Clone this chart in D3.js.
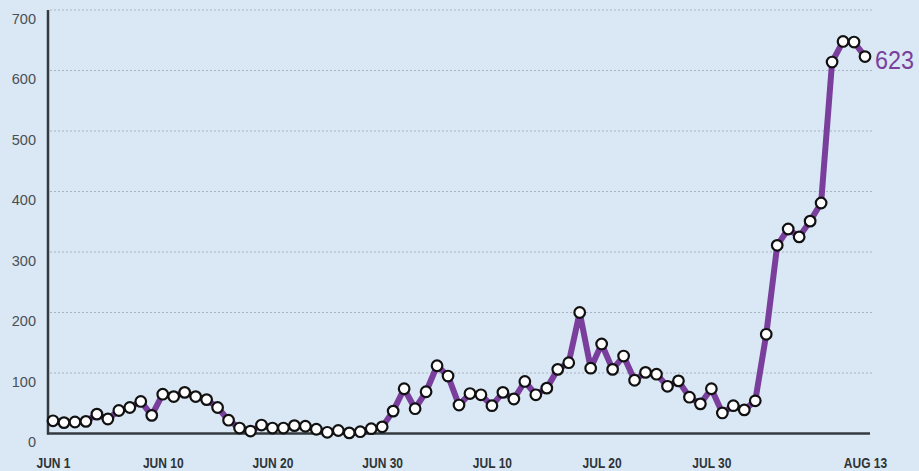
<!DOCTYPE html>
<html><head><meta charset="utf-8">
<script src="https://cdn.jsdelivr.net/npm/d3@7"></script>
<style>
html,body{margin:0;padding:0;background:#d9e8f4;}
svg{display:block;}
</style></head>
<body>
<svg id="chart" width="919" height="471"></svg>
<script>
// Daily values, one per day (index 0 = JUN 1)
const values = [21,18,19,20,32,24,38,43,53,30,65,61,68,61,56,43,22,9,4,14,9,9,13,12,7,2,5,1,3,8,11,37,74,41,69,112,95,47,66,64,46,68,57,86,64,75,106,117,200,108,148,106,128,88,101,98,78,87,60,49,74,34,46,39,54,164,311,338,325,351,381,614,648,647,623];
const xTickIndex = [0,10,20,30,40,50,60,74];
const xTickLabels = ["JUN 1","JUN 10","JUN 20","JUN 30","JUL 10","JUL 20","JUL 30","AUG 13"];
const yTicks = [0,100,200,300,400,500,600,700];
const lastLabel = "623";

const svg = d3.select("#chart");
const x = d3.scaleLinear().domain([0, values.length - 1]).range([53, 865]);
const y = d3.scaleLinear().domain([0, 700]).range([433.5, 10]);

// grid lines
svg.append("g").selectAll("line").data(yTicks.filter(d => d > 0)).join("line")
  .attr("x1", 50).attr("x2", 872)
  .attr("y1", d => y(d)).attr("y2", d => y(d))
  .attr("stroke", "#a9b4bf").attr("stroke-width", 1.2)
  .attr("stroke-dasharray", "2,2");

// y axis labels
const yAxis = d3.axisLeft(y).tickValues(yTicks).tickSize(0).tickPadding(0);
const gy = svg.append("g").attr("transform", "translate(36,8.5)").call(yAxis);
gy.select(".domain").remove();
gy.selectAll("text").attr("fill", "#4a4f55")
  .style("font-family", "'Liberation Sans', Arial, sans-serif").style("font-size", "14.5px");

// axis lines
svg.append("line").attr("x1", 48).attr("x2", 48).attr("y1", 10).attr("y2", y(0) + 1)
  .attr("stroke", "#333a40").attr("stroke-width", 2.5);
svg.append("line").attr("x1", 47).attr("x2", 870).attr("y1", y(0)).attr("y2", y(0))
  .attr("stroke", "#333a40").attr("stroke-width", 2.5);

// x axis labels (condensed bold)
const xAxis = d3.axisBottom(x).tickValues(xTickIndex)
  .tickFormat((d, i) => xTickLabels[i]).tickSize(0).tickPadding(0);
const gx = svg.append("g").attr("transform", "translate(0,457)").call(xAxis);
gx.select(".domain").remove();
gx.selectAll("text").attr("fill", "#2f3438")
  .style("font-family", "'Liberation Sans', Arial, sans-serif")
  .style("font-weight", "bold").style("font-size", "15px")
  .each(function() {
    const w = this.getComputedTextLength();
    d3.select(this).attr("textLength", w * 0.8).attr("lengthAdjust", "spacingAndGlyphs");
  });

// line
const line = d3.line().x((d, i) => x(i)).y(d => y(d));
svg.append("path").datum(values).attr("d", line)
  .attr("fill", "none").attr("stroke", "#7a3f9d").attr("stroke-width", 6)
  .attr("stroke-linejoin", "round");

// points
svg.append("g").selectAll("circle").data(values).join("circle")
  .attr("cx", (d, i) => x(i)).attr("cy", d => y(d)).attr("r", 5.3)
  .attr("fill", "#ffffff").attr("stroke", "#111111").attr("stroke-width", 2.2);

// end label
svg.append("text").attr("x", x(values.length - 1) + 10).attr("y", y(values[values.length - 1]) + 12)
  .text(lastLabel).attr("fill", "#7a3f9d")
  .style("font-family", "'Liberation Sans', Arial, sans-serif")
  .style("font-size", "25px")
  .attr("textLength", 39).attr("lengthAdjust", "spacingAndGlyphs");
</script>
</body></html>
